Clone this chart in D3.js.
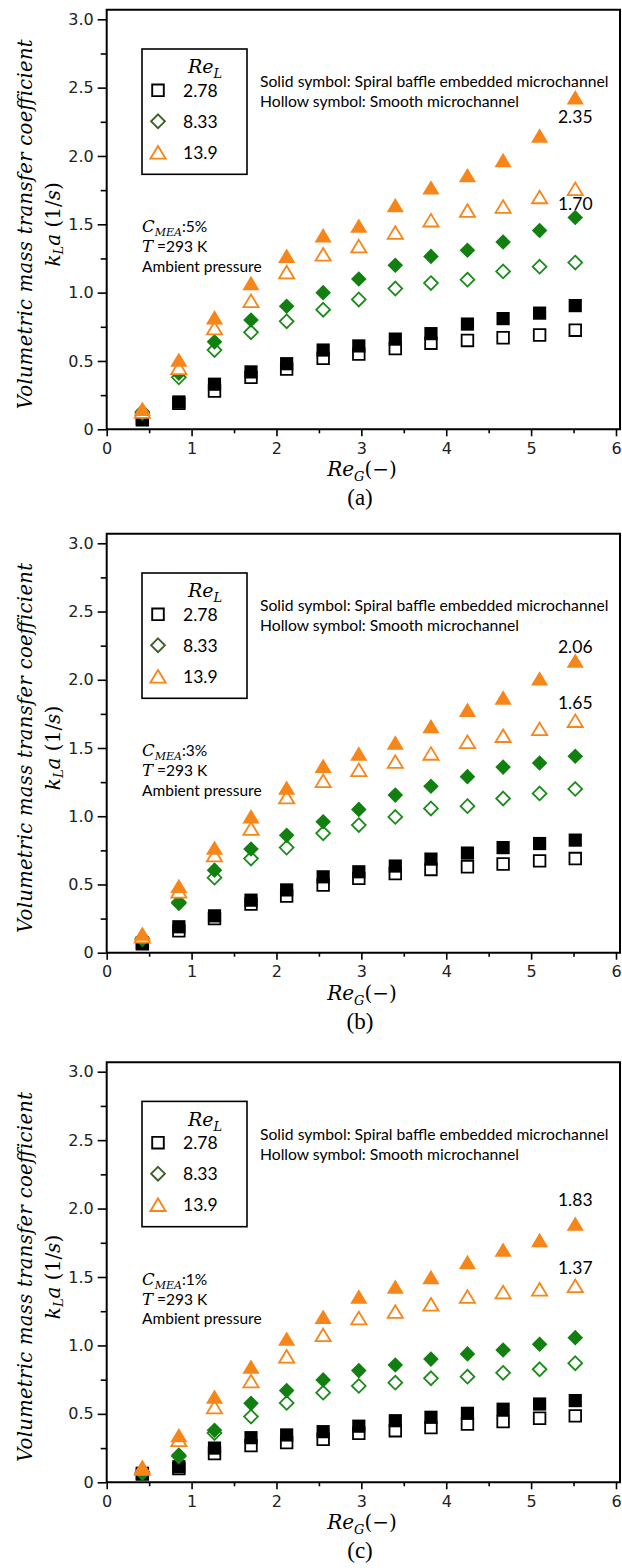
<!DOCTYPE html>
<html><head><meta charset="utf-8">
<script src="https://cdn.jsdelivr.net/npm/d3@7"></script>
<style>body{margin:0;background:#fff} svg{display:block}</style>
</head><body>
<svg id="chart" width="622" height="1568"></svg>
<script>
// ---------- data ----------
const reG = [0.42,0.85,1.27,1.70,2.12,2.55,2.97,3.40,3.82,4.25,4.67,5.10,5.52];

// (a) C_MEA 5%
const a_solid_278  = [0.08,0.20,0.33,0.42,0.48,0.58,0.61,0.66,0.70,0.77,0.81,0.85,0.905];
const a_hollow_278 = [0.07,0.19,0.28,0.38,0.44,0.52,0.55,0.59,0.63,0.65,0.67,0.69,0.725];
const a_solid_833  = [0.13,0.41,0.64,0.80,0.90,1.00,1.10,1.20,1.265,1.31,1.37,1.455,1.55];
const a_hollow_833 = [0.12,0.38,0.58,0.71,0.79,0.875,0.95,1.03,1.07,1.095,1.155,1.19,1.22];
const a_solid_139  = [0.15,0.51,0.82,1.07,1.27,1.42,1.49,1.64,1.77,1.86,1.97,2.15,2.43];
const a_hollow_139 = [0.13,0.45,0.74,0.94,1.15,1.28,1.34,1.44,1.53,1.60,1.63,1.70,1.76];

// (b) C_MEA 3%
const b_solid_278  = [0.073,0.19,0.27,0.385,0.46,0.556,0.593,0.635,0.686,0.73,0.77,0.80,0.825];
const b_hollow_278 = [0.065,0.16,0.25,0.357,0.415,0.496,0.545,0.58,0.61,0.63,0.65,0.673,0.69];
const b_solid_833  = [0.105,0.36,0.605,0.76,0.86,0.96,1.05,1.155,1.22,1.29,1.36,1.39,1.44];
const b_hollow_833 = [0.10,0.37,0.55,0.69,0.77,0.875,0.935,0.995,1.057,1.074,1.13,1.167,1.20];
const b_solid_139  = [0.14,0.49,0.77,1.00,1.21,1.37,1.46,1.54,1.66,1.78,1.87,2.01,2.14];
const b_hollow_139 = [0.12,0.45,0.715,0.91,1.14,1.26,1.34,1.40,1.46,1.545,1.59,1.64,1.70];

// (c) C_MEA 1%
const c_solid_278  = [0.066,0.114,0.25,0.326,0.346,0.37,0.41,0.45,0.475,0.504,0.534,0.572,0.597];
const c_hollow_278 = [0.06,0.10,0.21,0.268,0.29,0.314,0.358,0.377,0.40,0.426,0.443,0.468,0.485];
const c_solid_833  = [0.078,0.20,0.38,0.577,0.67,0.748,0.816,0.857,0.90,0.938,0.967,1.009,1.057];
const c_hollow_833 = [0.07,0.19,0.36,0.48,0.58,0.655,0.704,0.728,0.76,0.772,0.80,0.826,0.87];
const c_solid_139  = [0.114,0.345,0.626,0.845,1.05,1.21,1.357,1.43,1.50,1.61,1.70,1.77,1.89];
const c_hollow_139 = [0.10,0.31,0.55,0.74,0.92,1.077,1.20,1.247,1.30,1.357,1.39,1.41,1.435];

const legendLabels = ["2.78","8.33","13.9"];
const yMajorTicks = [0,0.5,1.0,1.5,2.0,2.5,3.0];
const yTickLabels = ["0","0.5","1.0","1.5","2.0","2.5","3.0"];
const yMinorTicks = [0.25,0.75,1.25,1.75,2.25,2.75];
const xMajorTicks = [0,1,2,3,4,5,6];
const xTickLabels = ["0","1","2","3","4","5","6"];
const xMinorTicks = [0.5,1.5,2.5,3.5,4.5,5.5];
const panelLabels = ["(a)","(b)","(c)"];
const cmeaLabels = ["5%","3%","1%"];
const endLabelsA = ["2.35","1.70"];
const endLabelsB = ["2.06","1.65"];
const endLabelsC = ["1.83","1.37"];

// ---------- styles ----------
const ORANGE = "#f7861a", GREEN = "#118011", GREEN_H = "#1a8a1a", BLACK = "#000";
const LEG_GREEN = "#3d5e25";
const SANS = "Lato, 'Open Sans', sans-serif";
const TICKF = "'DejaVu Sans', sans-serif";
const SERIF = "'DejaVu Serif', serif";

const panels = [
  {top3:19.3, zero:429.3, label:panelLabels[0], cmea:cmeaLabels[0], ends:endLabelsA, endY:[2.287,1.65],
   series:[[a_hollow_278,a_solid_278],[a_hollow_833,a_solid_833],[a_hollow_139,a_solid_139]]},
  {top3:543.3, zero:952.7, label:panelLabels[1], cmea:cmeaLabels[1], ends:endLabelsB, endY:[2.245,1.837],
   series:[[b_hollow_278,b_solid_278],[b_hollow_833,b_solid_833],[b_hollow_139,b_solid_139]]},
  {top3:1071.7, zero:1482.3, label:panelLabels[2], cmea:cmeaLabels[2], ends:endLabelsC, endY:[2.064,1.572],
   series:[[c_hollow_278,c_solid_278],[c_hollow_833,c_solid_833],[c_hollow_139,c_solid_139]]}
];

const svg = d3.select("#chart");
const x = d3.scaleLinear().domain([0,6]).range([106.7,616]);
const X0 = x(0), XR = 620;

function shape(type, filled){
  if(type===0){ const s = filled?6.6:5.8; return `M${-s},${-s}H${s}V${s}H${-s}Z`; }
  if(type===1){ const s = filled?7.8:6.9; return `M0,${-s}L${s},0L0,${s}L${-s},0Z`; }
  const w = filled?8.6:7.6, h = filled?7.2:6.3;
  return `M0,${-h}L${w},${h}L${-w},${h}Z`;
}
const colors = [BLACK, GREEN, ORANGE];
const hollowColors = [BLACK, GREEN_H, ORANGE];

panels.forEach((p) => {
  const y = d3.scaleLinear().domain([0,3]).range([p.zero, p.top3]);
  const g = svg.append("g");
  const frameTop = p.top3 - 9.5;

  g.append("path")
    .attr("d", `M${X0},${p.zero}V${frameTop}H${XR}V${p.zero}H${X0}`)
    .attr("fill","none").attr("stroke","#000").attr("stroke-width",2);

  const ya = g.append("g").attr("transform",`translate(${X0},0)`)
    .call(d3.axisLeft(y).tickValues(yMajorTicks).tickSize(9).tickSizeOuter(0).tickPadding(4)
      .tickFormat((d,i)=>yTickLabels[i]));
  const yb = g.append("g").attr("transform",`translate(${X0},0)`)
    .call(d3.axisLeft(y).tickValues(yMinorTicks).tickSize(6).tickSizeOuter(0).tickFormat(""));
  const xa = g.append("g").attr("transform",`translate(0,${p.zero})`)
    .call(d3.axisBottom(x).tickValues(xMajorTicks).tickSize(7).tickSizeOuter(0).tickPadding(6)
      .tickFormat((d,i)=>xTickLabels[i]));
  const xb = g.append("g").attr("transform",`translate(0,${p.zero})`)
    .call(d3.axisBottom(x).tickValues(xMinorTicks).tickSize(4).tickSizeOuter(0).tickFormat(""));
  [ya,yb,xa,xb].forEach(a=>{
    a.select(".domain").remove();
    a.selectAll("line").attr("stroke","#000").attr("stroke-width",1.6);
    a.selectAll("text").style("font-family",TICKF).style("font-size","16px").attr("fill","#222");
  });

  p.series.forEach((pair, si) => {
    pair.forEach((vals, k) => {
      const filled = k===1;
      g.append("g").selectAll("path").data(vals).join("path")
        .attr("transform",(d,i)=>`translate(${x(reG[i])},${y(d)})`)
        .attr("d", shape(si, filled))
        .attr("fill", filled ? colors[si] : "#fff")
        .attr("stroke", filled ? "none" : hollowColors[si])
        .attr("stroke-width", filled ? 0 : 1.8);
    });
  });

  const lg = g.append("g");
  lg.append("rect").attr("x",142).attr("y",p.top3+29.7).attr("width",105).attr("height",125.3)
    .attr("fill","#fff").attr("stroke","#000").attr("stroke-width",1.6);
  const lt = lg.append("text").attr("x",188).attr("y",p.top3+54)
    .style("font-family",SERIF).style("font-style","italic").style("font-size","19px");
  lt.append("tspan").text("Re");
  lt.append("tspan").attr("dy",5).style("font-size","13px").text("L");
  const legCols = [BLACK, LEG_GREEN, ORANGE];
  legendLabels.forEach((lab, i) => {
    const cy = p.top3 + 71 + i*31;
    lg.append("path").attr("transform",`translate(158,${cy})`)
      .attr("d", shape(i,false)).attr("fill","#fff").attr("stroke",legCols[i]).attr("stroke-width",1.9);
    lg.append("text").attr("x",183).attr("y",cy).attr("dominant-baseline","central")
      .style("font-family",SANS).style("font-size","17.5px").text(lab);
  });

  g.append("text").attr("x",260).attr("y",p.top3+62).attr("dominant-baseline","central")
    .style("font-family",SANS).style("font-size","15.7px").text("Solid symbol: Spiral baffle embedded microchannel");
  g.append("text").attr("x",260).attr("y",p.top3+82).attr("dominant-baseline","central")
    .style("font-family",SANS).style("font-size","15.7px").text("Hollow symbol: Smooth microchannel");

  const c1 = g.append("text").attr("x",142).attr("y",p.top3+213);
  c1.append("tspan").style("font-family",SERIF).style("font-style","italic").style("font-size","16.5px").text("C");
  c1.append("tspan").attr("dy",4).style("font-family",SERIF).style("font-style","italic").style("font-size","11px").text("MEA");
  c1.append("tspan").attr("dy",-4).style("font-family",SANS).style("font-size","15.5px").text(":" + p.cmea);
  const c2 = g.append("text").attr("x",142).attr("y",p.top3+233);
  c2.append("tspan").style("font-family",SERIF).style("font-style","italic").style("font-size","16.5px").text("T");
  c2.append("tspan").style("font-family",SANS).style("font-size","15.5px").text(" =293 K");
  g.append("text").attr("x",142).attr("y",p.top3+252.5)
    .style("font-family",SANS).style("font-size","15.5px").text("Ambient pressure");

  p.ends.forEach((lab,i)=>{
    g.append("text").attr("x",x(reG[12])).attr("y",y(p.endY[i])).attr("text-anchor","middle")
      .attr("dominant-baseline","central").style("font-family",SANS).style("font-size","17.5px").text(lab);
  });

  const cyMid = (p.top3 + p.zero)/2;
  g.append("text").attr("transform",`translate(25,${cyMid}) rotate(-90)`)
    .attr("text-anchor","middle").attr("dominant-baseline","central")
    .attr("textLength",370).attr("lengthAdjust","spacing")
    .style("font-family",SERIF).style("font-style","italic").style("font-size","19.5px")
    .text("Volumetric mass transfer coefficient");
  const t2 = g.append("text").attr("transform",`translate(53,${cyMid}) rotate(-90)`)
    .attr("text-anchor","middle").attr("dominant-baseline","central")
    .style("font-family",SERIF).style("font-size","20px");
  t2.append("tspan").style("font-style","italic").text("k");
  t2.append("tspan").attr("dy",5).style("font-style","italic").style("font-size","13px").text("L");
  t2.append("tspan").attr("dy",-5).style("font-style","italic").text("a");
  t2.append("tspan").text(" (1/");
  t2.append("tspan").style("font-style","italic").text("s");
  t2.append("tspan").text(")");

  const xt = g.append("text").attr("x",362).attr("y",p.zero+47).attr("text-anchor","middle")
    .style("font-family",SERIF).style("font-size","20px");
  xt.append("tspan").style("font-style","italic").text("Re");
  xt.append("tspan").attr("dy",5).style("font-style","italic").style("font-size","13px").text("G");
  xt.append("tspan").attr("dy",-5).text("(−)");

  g.append("text").attr("x",360).attr("y",p.zero+76).attr("text-anchor","middle")
    .style("font-family","'Liberation Serif', serif").style("font-size","23px").text(p.label);
});
</script>
</body></html>
